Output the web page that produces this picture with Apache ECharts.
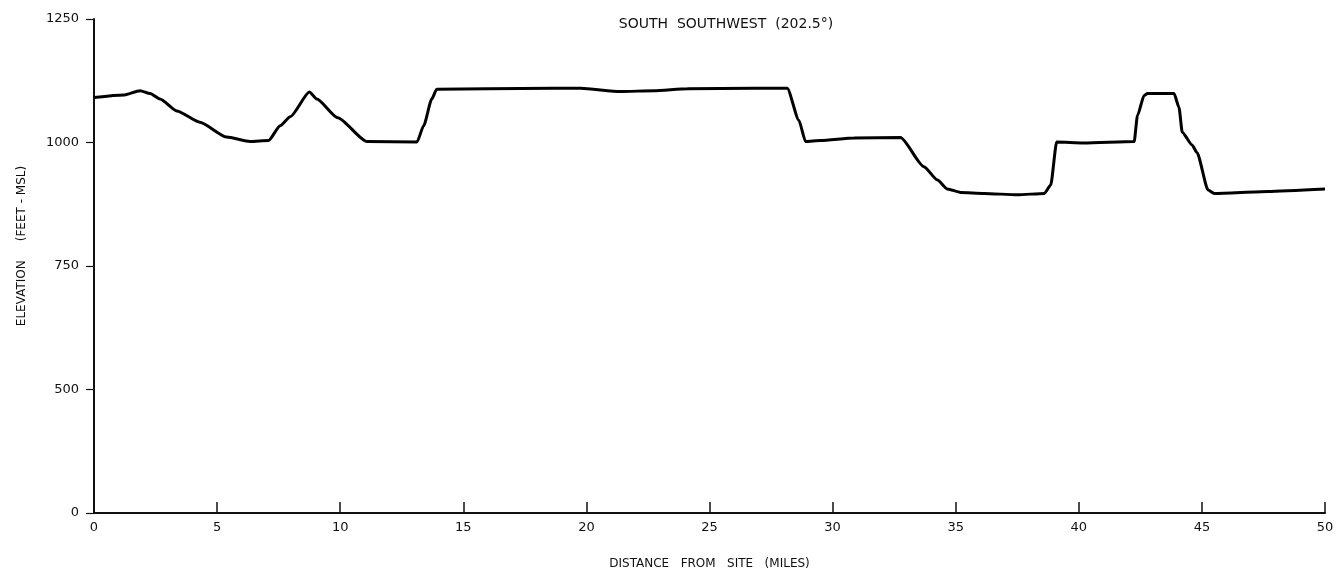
<!DOCTYPE html>
<html>
<head>
<meta charset="utf-8">
<script src="https://cdn.jsdelivr.net/npm/echarts@6/dist/echarts.min.js"></script>
<style>
  html, body { margin: 0; padding: 0; background: #fff; }
  #chart { width: 1339px; height: 575px; }
</style>
</head>
<body>
<div id="chart"></div>
<script>
// distance from site (miles) and terrain elevation (feet, MSL)
var distance = [0, 1.2, 1.87, 2.28, 2.68, 3.36, 4.3, 5.39, 6.34, 7.09, 7.56, 7.97, 8.75, 9.05, 9.9, 11.08,
    13.12, 13.39, 13.72, 13.92, 16, 18.67, 19.76, 21.38, 22.74, 24.1, 26.8, 28.16, 28.63, 28.9,
    29.51, 30.87, 32.76, 33.71, 34.26, 34.66, 35.2, 36.15, 37.5, 38.6, 38.86, 39.1, 40.2, 42.25,
    42.38, 42.65, 42.79, 43.87, 44.07, 44.2, 44.6, 44.8, 45.25, 45.5, 47.67, 50];
var elevation = [1091, 1096, 1105, 1099, 1088, 1064, 1041, 1011, 1002, 1004, 1034, 1052, 1102, 1088, 1050, 1002,
    1001, 1034, 1088, 1108, 1109, 1110, 1110, 1103, 1105, 1109, 1110, 1110, 1045, 1002,
    1004, 1009, 1010, 951, 924, 906, 899, 897, 894, 897, 914, 1001, 999, 1002,
    1054, 1095, 1099, 1099, 1071, 1021, 995, 980, 904, 897, 901, 906];

// tick labels on the elevation axis; the lowest tick is drawn as 0 (the axis is broken below 500)
var yTicks = [250, 500, 750, 1000, 1250];
var yTickLabels = ['0', '500', '750', '1000', '1250'];

var font = 'DejaVu Sans';

var points = [];
for (var i = 0; i < distance.length; i++) {
    points.push([distance[i], elevation[i]]);
}

var myChart = echarts.init(document.getElementById('chart'));
var option = {
    backgroundColor: '#fff',
    animation: false,
    title: {
        text: 'SOUTH  SOUTHWEST  (202.5°)',
        left: 721,
        top: 12,
        textAlign: 'center',
        textStyle: {
            color: '#111',
            fontFamily: font,
            fontSize: 14,
            fontWeight: 'normal'
        }
    },
    grid: {
        left: 94,
        right: 14,
        top: 19,
        bottom: 58
    },
    xAxis: {
        type: 'value',
        min: 0,
        max: 50,
        interval: 5,
        name: 'DISTANCE   FROM   SITE   (MILES)',
        nameLocation: 'middle',
        nameGap: 45,
        nameTextStyle: {
            color: '#111',
            fontFamily: font,
            fontSize: 12
        },
        splitLine: { show: false },
        axisLine: {
            lineStyle: { color: '#111', width: 2 }
        },
        axisTick: {
            inside: true,
            length: 11,
            lineStyle: { color: '#111', width: 1.5 }
        },
        axisLabel: {
            margin: 8,
            color: '#111',
            fontFamily: font,
            fontSize: 13
        }
    },
    yAxis: {
        type: 'value',
        min: 250,
        max: 1250,
        interval: 250,
        name: 'ELEVATION     (FEET - MSL)',
        nameLocation: 'middle',
        nameGap: 66,
        nameRotate: 90,
        nameTextStyle: {
            color: '#111',
            fontFamily: font,
            fontSize: 12,
            padding: [0, 0, 0, 40]
        },
        splitLine: { show: false },
        axisLine: {
            show: true,
            lineStyle: { color: '#111', width: 2 }
        },
        axisTick: {
            show: true,
            length: 8,
            lineStyle: { color: '#111', width: 1.2 }
        },
        axisLabel: {
            margin: 15,
            color: '#111',
            fontFamily: font,
            fontSize: 13,
            formatter: function (value) {
                var idx = yTicks.indexOf(value);
                return idx >= 0 ? yTickLabels[idx] : '';
            }
        }
    },
    series: [{
        type: 'line',
        data: points,
        showSymbol: false,
        smooth: 0.2,
        smoothMonotone: 'x',
        lineStyle: {
            color: '#000',
            width: 3
        }
    }]
};
myChart.setOption(option);
window.onresize = myChart.resize;
</script>
</body>
</html>
